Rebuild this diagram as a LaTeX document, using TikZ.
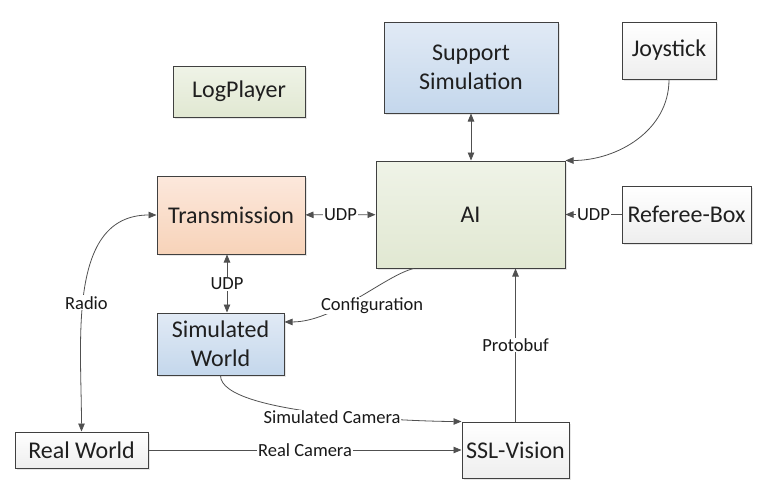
\documentclass[tikz,border=0pt]{standalone}
\usepackage{fontspec}
\setmainfont{Carlito}
\usepackage{tikz}
\usetikzlibrary{arrows.meta,shadows,calc}

\definecolor{edgegray}{RGB}{64,64,64}
\definecolor{linegray}{RGB}{80,80,80}
\definecolor{greentop}{RGB}{239,243,231}
\definecolor{greenbot}{RGB}{225,232,210}
\definecolor{bluetop}{RGB}{225,234,245}
\definecolor{bluebot}{RGB}{196,215,236}
\definecolor{orangetop}{RGB}{252,232,220}
\definecolor{orangebot}{RGB}{247,211,185}
\definecolor{greybot}{RGB}{238,238,238}

\begin{document}
\begin{tikzpicture}
	[x=1pt,y=1pt,
	box/.style={draw=edgegray,line width=1pt,align=center,inner sep=2pt,text=black!88,
		font=\fontsize{24}{29}\selectfont,
		drop shadow={shadow xshift=2pt,shadow yshift=-2pt,opacity=0.2}},
	greenbox/.style={box,top color=greentop,bottom color=greenbot},
	bluebox/.style={box,top color=bluetop,bottom color=bluebot},
	orangebox/.style={box,top color=orangetop,bottom color=orangebot},
	whitebox/.style={box,top color=white,bottom color=greybot},
	link/.style={draw=linegray,line width=0.8pt,>={Triangle[length=8pt,width=6.5pt]}},
	lbl/.style={fill=white,inner sep=1pt,text=black!90,font=\fontsize{18.5}{22}\selectfont}]

	\useasboundingbox (0,0) rectangle (769,-490);

	\node[greenbox,minimum width=132pt,minimum height=51pt] (logplayer) at (239,-91.5) {LogPlayer};
	\node[bluebox,minimum width=174pt,minimum height=91pt] (support) at (471,-67.5) {Support\\Simulation};
	\node[whitebox,minimum width=94pt,minimum height=57pt] (joystick) at (669,-50.5) {Joystick};
	\node[greenbox,minimum width=189pt,minimum height=107pt] (ai) at (470.5,-214.5) {AI};
	\node[whitebox,minimum width=129pt,minimum height=57pt] (referee) at (686.5,-214.5) {Referee-Box};
	\node[orangebox,minimum width=148pt,minimum height=78pt] (transmission) at (231,-215) {Transmission};
	\node[bluebox,minimum width=127pt,minimum height=62pt] (simworld) at (220.5,-344) {Simulated\\World};
	\node[whitebox,minimum width=133pt,minimum height=36pt] (realworld) at (81.5,-450) {Real World};
	\node[whitebox,minimum width=107pt,minimum height=56pt] (sslvision) at (515.5,-450) {SSL-Vision};

	\draw[link,<->] (support.south) -- (support.south |- ai.north);
	\draw[link,->] (joystick.south) to[out=-90,in=0] (ai.north east);
	\draw[link,->] (referee) -- node[lbl]{UDP} (ai);
	\draw[link,<->] (transmission) -- node[lbl]{UDP} (ai);
	\draw[link,<->] ([xshift=-4pt]transmission.south) -- node[lbl]{UDP} ([xshift=-4pt]transmission.south |- simworld.north);
	\draw[link,<->] (realworld.north) to[out=90,in=180] node[lbl,pos=0.45,xshift=3pt]{Radio} (transmission.west);
	\draw[link,->] ($(ai.south west)!0.2!(ai.south east)$) .. controls +(-30,-8) and +(50,0) .. node[lbl,pos=0.45,xshift=9pt,yshift=-11pt]{Configuration} ($(simworld.north east)!0.15!(simworld.south east)$);
	\draw[link,->] (simworld.south) .. controls +(0,-40) and +(-40,0) .. node[lbl,pos=0.5,xshift=6pt,yshift=-4pt]{Simulated Camera} (sslvision.north west);
	\draw[link,->] (realworld) -- node[lbl]{Real Camera} (sslvision);
	\draw[link,->] (sslvision.north) -- node[lbl]{Protobuf} (sslvision.north |- ai.south);
\end{tikzpicture}
\end{document}
